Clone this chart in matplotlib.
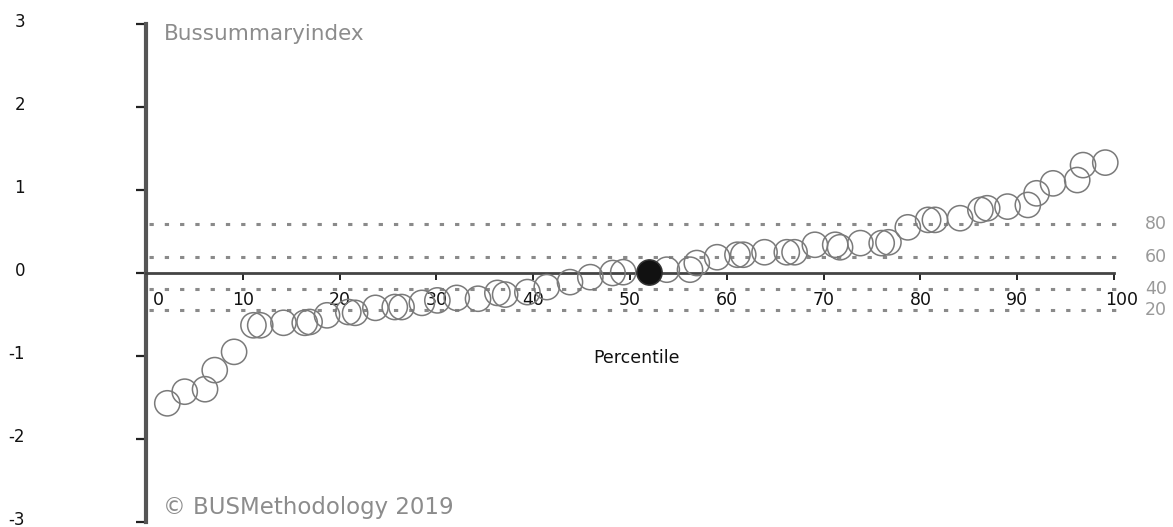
import matplotlib.pyplot as plt
from matplotlib.transforms import offset_copy

# summary index per percentile
percentile = [2.2, 4.0, 6.1, 7.1, 9.1, 11.1, 11.8, 14.2, 16.4, 16.9,
              18.7, 20.9, 21.6, 23.7, 25.7, 26.4, 28.5, 30.1, 32.1, 34.3,
              36.3, 37.1, 39.4, 41.4, 43.8, 45.9, 48.2, 49.3, 53.8, 56.2,
              56.9, 59.0, 61.1, 61.7, 63.9, 66.2, 67.0, 69.1, 71.2, 71.7,
              73.8, 76.0, 76.7, 78.7, 80.8, 81.5, 84.1, 86.2, 86.9, 89.0,
              91.1, 92.0, 93.7, 96.2, 96.8, 99.1]
index = [-1.57, -1.43, -1.40, -1.17, -0.95, -0.63, -0.63, -0.60, -0.60, -0.59,
         -0.51, -0.47, -0.48, -0.42, -0.41, -0.41, -0.36, -0.33, -0.30, -0.31,
         -0.24, -0.26, -0.23, -0.17, -0.11, -0.05, 0.00, 0.01, 0.04, 0.04,
         0.12, 0.19, 0.22, 0.22, 0.25, 0.25, 0.25, 0.34, 0.34, 0.31,
         0.36, 0.36, 0.37, 0.55, 0.64, 0.64, 0.66, 0.76, 0.78, 0.80,
         0.82, 0.96, 1.08, 1.12, 1.30, 1.33]

# highlighted bus
own_percentile = [52.0]
own_index = [0.01]

# reference percentile levels
ref_labels = ['80', '60', '40', '20']
ref_levels = [0.59, 0.19, -0.19, -0.44]

x_ticks = list(range(0, 101, 10))
y_ticks = [-3, -2, -1, 0, 1, 2, 3]

fig = plt.figure(figsize=(11.73, 5.27), dpi=100)
ax = fig.add_axes([146 / 1173, 5 / 527, (1114 - 146) / 1173, 498 / 527])
ax.set_xlim(0, 100)
ax.set_ylim(-3, 3)

for side in ['top', 'right']:
    ax.spines[side].set_visible(False)
ax.spines['left'].set_linewidth(3)
ax.spines['left'].set_color('#555555')
ax.spines['bottom'].set_position(('data', 0))
ax.spines['bottom'].set_linewidth(2)
ax.spines['bottom'].set_color('#444444')

ax.set_yticks(y_ticks)
ax.set_yticklabels([str(v) for v in y_ticks])
ax.tick_params(axis='y', direction='out', length=7, width=1.6, color='#222222',
               pad=80, labelsize=12, labelcolor='#111111')
ax.set_xticks(x_ticks)
ax.set_xticklabels([str(v) for v in x_ticks])
ax.tick_params(axis='x', direction='out', length=5, width=1.4, color='#222222',
               pad=8, labelsize=12.5, labelcolor='#111111')
for lab in ax.get_yticklabels():
    lab.set_transform(offset_copy(lab.get_transform(), fig=fig, y=4, units='dots'))
xlabs = ax.get_xticklabels()
xlabs[0].set_transform(offset_copy(xlabs[0].get_transform(), fig=fig, x=12, units='dots'))
xlabs[-1].set_transform(offset_copy(xlabs[-1].get_transform(), fig=fig, x=8, units='dots'))

# dotted reference lines
for lev in ref_levels:
    ax.plot([0.3, 100.9], [lev, lev], color='#8a8a8a', linewidth=2.2,
            dashes=(1.4, 3.6), clip_on=False, zorder=1)
for lab, lev in zip(ref_labels, ref_levels):
    ax.text(103.2, lev, lab, color='#999999', fontsize=12.5,
            ha='left', va='center', clip_on=False)

ax.scatter(percentile, index, s=330, facecolors='none', edgecolors='#7a7a7a',
           linewidths=1.1, clip_on=False, zorder=3)
ax.scatter(own_percentile, own_index, s=330, facecolors='#111111',
           edgecolors='#333333', linewidths=1.1, clip_on=False, zorder=4)

ax.text(1.8, 2.88, 'Bussummaryindex', color='#8c8c8c', fontsize=15.5,
        ha='left', va='center')
ax.text(1.8, -2.83, '\u00a9 BUSMethodology 2019', color='#8c8c8c',
        fontsize=16.5, ha='left', va='center')
ax.text(50.7, -1.03, 'Percentile', color='#111111', fontsize=12.5,
        ha='center', va='center')

plt.savefig('out.png')
